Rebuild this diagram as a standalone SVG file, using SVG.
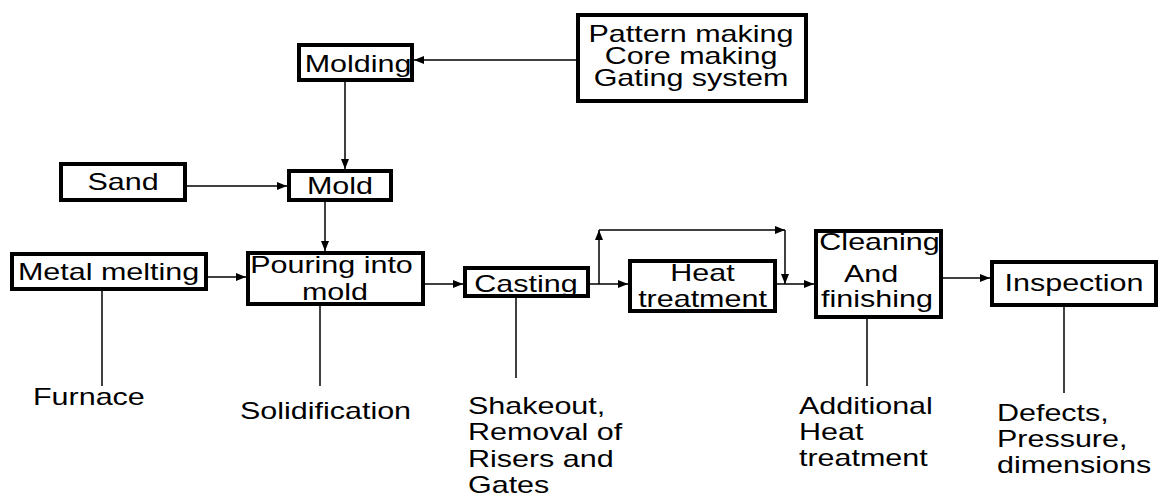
<svg xmlns="http://www.w3.org/2000/svg" width="1162" height="496" viewBox="0 0 1162 496">
<style>
.box{fill:#fff;stroke:#000;stroke-width:4}
.t{font-family:"Liberation Sans",Arial,sans-serif;font-size:24px;fill:#000}
.c{text-anchor:middle}
.ln{stroke:#000;stroke-width:1.5;fill:none}
.ar{marker-end:url(#ah)}
</style>
<defs>
<marker id="ah" markerUnits="userSpaceOnUse" markerWidth="10" markerHeight="8" refX="10" refY="4" orient="auto">
<path d="M0,0 L10,4 L0,8 z" fill="#000"/>
</marker>
</defs>
<rect width="1162" height="496" fill="#fff"/>
<g id="connectors">
<path class="ln ar" d="M576,60 H414"/>
<path class="ln ar" d="M345,82 V169"/>
<path class="ln ar" d="M182,186 H287"/>
<path class="ln ar" d="M325,202 V251"/>
<path class="ln ar" d="M208,277 H246"/>
<path class="ln ar" d="M425,284 H463"/>
<path class="ln ar" d="M590,284 H628"/>
<path class="ln ar" d="M599,284 V230"/>
<path class="ln ar" d="M599,230 H785"/>
<path class="ln ar" d="M785,230 V284"/>
<path class="ln ar" d="M777,284 H814"/>
<path class="ln ar" d="M943,278 H990"/>
<path class="ln" d="M102,291 V386"/>
<path class="ln" d="M320,306 V386"/>
<path class="ln" d="M516,298 V378"/>
<path class="ln" d="M867,319 V386"/>
<path class="ln" d="M1064,307 V393"/>
</g>
<g id="molding"><rect class="box" x="299" y="45" width="113" height="35"/>
<text class="t c" transform="translate(358,72) scale(1.27,1)">Molding</text></g>
<g id="pattern"><rect class="box" x="578" y="15" width="228" height="86"/>
<text class="t c" transform="translate(691,42) scale(1.27,1)">Pattern making</text>
<text class="t c" transform="translate(691,64) scale(1.27,1)">Core making</text>
<text class="t c" transform="translate(691,86) scale(1.27,1)">Gating system</text></g>
<g id="sand"><rect class="box" x="61" y="164" width="124" height="36"/>
<text class="t c" transform="translate(123,190) scale(1.27,1)">Sand</text></g>
<g id="mold"><rect class="box" x="289" y="171" width="102" height="29"/>
<text class="t c" transform="translate(340,194) scale(1.27,1)">Mold</text></g>
<g id="metal"><rect class="box" x="12" y="254" width="194" height="35"/>
<text class="t c" transform="translate(108.5,280) scale(1.27,1)">Metal melting</text></g>
<g id="pouring"><rect class="box" x="248" y="253" width="175" height="51"/>
<text class="t c" transform="translate(331.5,273) scale(1.27,1)">Pouring into</text>
<text class="t c" transform="translate(335,300) scale(1.27,1)">mold</text></g>
<g id="casting"><rect class="box" x="465" y="268" width="123" height="28"/>
<text class="t c" transform="translate(526,292) scale(1.27,1)">Casting</text></g>
<g id="heat"><rect class="box" x="630" y="261" width="145" height="50"/>
<text class="t c" transform="translate(702.5,281) scale(1.27,1)">Heat</text>
<text class="t c" transform="translate(702.5,307) scale(1.27,1)">treatment</text></g>
<g id="cleaning"><rect class="box" x="816" y="231" width="125" height="86"/>
<text class="t c" transform="translate(879.5,250) scale(1.27,1)">Cleaning</text>
<text class="t c" transform="translate(871,282) scale(1.27,1)">And</text>
<text class="t c" transform="translate(877,307) scale(1.27,1)">finishing</text></g>
<g id="inspection"><rect class="box" x="992" y="262" width="164" height="43"/>
<text class="t c" transform="translate(1074,291) scale(1.27,1)">Inspection</text></g>
<g id="labels">
<text class="t" transform="translate(33,405) scale(1.27,1)">Furnace</text>
<text class="t" transform="translate(240,419) scale(1.27,1)">Solidification</text>
<text class="t" transform="translate(468,414) scale(1.27,1)">Shakeout,</text>
<text class="t" transform="translate(468,440) scale(1.27,1)">Removal of</text>
<text class="t" transform="translate(468,467) scale(1.27,1)">Risers and</text>
<text class="t" transform="translate(468,493) scale(1.27,1)">Gates</text>
<text class="t" transform="translate(799,414) scale(1.27,1)">Additional</text>
<text class="t" transform="translate(799,440) scale(1.27,1)">Heat</text>
<text class="t" transform="translate(799,466) scale(1.27,1)">treatment</text>
<text class="t" transform="translate(997,421) scale(1.27,1)">Defects,</text>
<text class="t" transform="translate(997,447) scale(1.27,1)">Pressure,</text>
<text class="t" transform="translate(997,473) scale(1.27,1)">dimensions</text>
</g>
</svg>
